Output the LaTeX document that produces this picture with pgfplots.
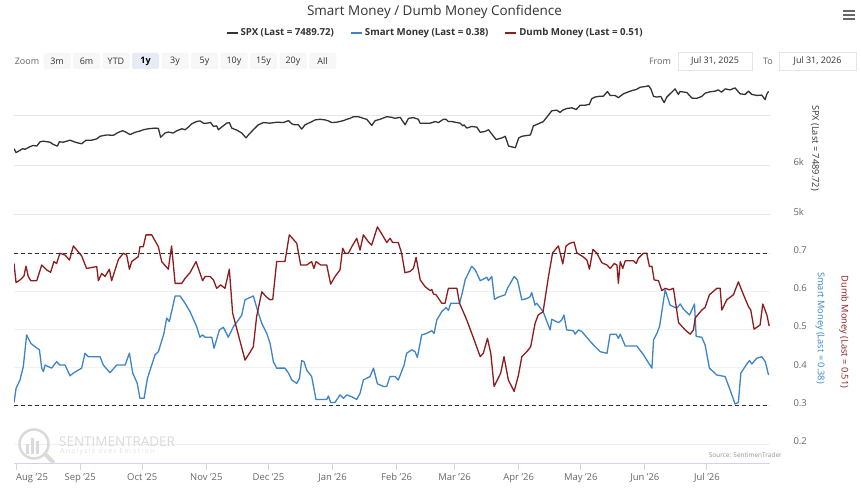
\documentclass[border=0pt]{standalone}
\usepackage{fontspec}
\setmainfont{Open Sans}
\usepackage{pgfplots}
\pgfplotsset{compat=1.18}
\usepackage{pgfplotstable}
\definecolor{spx}{HTML}{333333}
\definecolor{smart}{HTML}{3D85C6}
\definecolor{dumb}{HTML}{8E1C1C}
\definecolor{tickgray}{HTML}{666666}
\definecolor{gridc}{HTML}{E6E6E6}
\definecolor{gridl}{HTML}{F0F0F0}
\definecolor{axisc}{HTML}{CCD6EB}
\definecolor{btn}{HTML}{F7F7F7}
\definecolor{btnsel}{HTML}{E6EBF5}
\definecolor{wm}{HTML}{DADADA}

\pgfplotstableread{
d v
0 6336
1.0 6257
2.9 6303
4.2 6336
5.3 6322
7.7 6375
9.3 6401
11.0 6388
12.6 6474
14.2 6487
17.4 6467
19.0 6421
21.0 6388
21.9 6474
23.9 6467
27.1 6507
29.5 6467
32.7 6434
34.8 6507
37.6 6507
40.0 6533
41.6 6586
44.8 6612
48.0 6605
50.5 6665
52.5 6697
53.7 6678
56.1 6619
58.5 6665
60.9 6691
62.5 6717
65.0 6737
68.2 6750
69.8 6744
70.9 6566
73.0 6651
74.6 6671
77.0 6651
78.7 6697
81.1 6737
82.7 6717
84.3 6770
85.9 6836
88.3 6882
89.9 6895
91.6 6849
93.2 6849
95.1 6862
96.4 6783
98.0 6796
98.8 6717
100.4 6770
102.8 6849
104.1 6862
105.3 6750
108.0 6704
110.1 6651
112.2 6553
113.3 6612
115.7 6717
118.1 6816
120.6 6862
123.8 6849
127.0 6869
130.2 6862
132.7 6901
134.3 6836
135.9 6816
137.5 6816
139.1 6730
140.7 6816
143.1 6862
145.6 6915
148.0 6928
150.4 6915
152.0 6895
153.6 6862
156.0 6869
159.3 6901
160.9 6928
162.5 6947
164.1 6980
166.5 6980
168.9 6947
170.5 6928
173.0 6803
174.6 6901
177.0 6928
180.2 6980
182.6 6967
184.2 6947
186.7 6967
189.1 6816
190.7 6947
193.1 6961
195.5 6928
196.3 6849
201.2 6849
203.6 6882
205.2 6862
207.6 6928
208.9 6928
210.0 6882
211.6 6882
214.1 6862
215.7 6849
217.0 6796
217.6 6816
218.9 6750
221.3 6783
223.7 6770
225.4 6665
227.8 6684
229.4 6717
231.8 6586
233.1 6520
235.9 6553
237.5 6586
239.1 6388
242.4 6355
244.0 6553
245.6 6586
249.7 6612
251.1 6796
253.5 6836
255.9 6882
258.4 7013
260.0 7099
262.4 7112
264.0 7066
265.3 7112
267.2 7145
269.7 7158
271.8 7125
273.7 7211
276.1 7211
278.2 7230
279.3 7342
280.9 7375
282.5 7388
285.0 7395
286.9 7487
288.2 7408
290.6 7408
292.2 7362
294.6 7441
297.9 7494
301.1 7533
302.7 7573
305.9 7592
306.7 7606
307.9 7540
309.2 7388
310.8 7375
312.7 7388
314.3 7263
315.6 7375
318.0 7474
319.6 7540
321.2 7428
322.0 7487
325.3 7467
327.7 7355
330.1 7349
332.5 7388
334.1 7454
336.5 7481
338.9 7494
340.5 7520
342.1 7474
343.8 7540
346.2 7520
348.6 7560
351.0 7441
353.5 7428
355.1 7494
356.7 7428
359.1 7408
361.5 7415
363.1 7323
363.9 7428
364.8 7490
}\spxdata

\pgfplotstableread{
d v
0 0.309
1.0 0.346
2.9 0.368
4.5 0.403
6.1 0.486
8.1 0.464
10.2 0.455
12.3 0.447
13.4 0.399
14.2 0.390
15.0 0.407
18.2 0.399
20.6 0.416
22.2 0.407
24.7 0.407
27.1 0.379
28.7 0.386
32.7 0.399
34.3 0.438
35.9 0.429
41.6 0.429
43.2 0.407
46.4 0.387
49.6 0.407
53.7 0.407
55.8 0.438
57.4 0.386
59.6 0.359
60.9 0.320
62.9 0.320
64.5 0.372
65.8 0.394
68.2 0.434
69.8 0.442
72.5 0.490
73.8 0.530
75.1 0.521
77.9 0.588
80.3 0.588
82.7 0.569
85.1 0.547
88.3 0.508
89.9 0.480
91.2 0.486
92.4 0.480
95.6 0.480
96.7 0.451
99.3 0.499
101.2 0.506
103.6 0.480
106.1 0.508
108.5 0.525
110.1 0.538
111.7 0.578
115.7 0.588
117.7 0.551
119.8 0.516
122.2 0.490
123.8 0.464
125.4 0.416
127.0 0.399
131.0 0.399
132.7 0.386
134.3 0.368
136.7 0.359
138.0 0.372
139.1 0.419
140.2 0.416
141.5 0.394
143.9 0.377
146.0 0.317
151.2 0.317
152.0 0.326
153.1 0.309
155.2 0.309
157.6 0.329
159.3 0.320
160.9 0.329
163.3 0.324
165.7 0.317
167.3 0.333
168.9 0.368
172.1 0.377
173.8 0.399
175.7 0.358
178.6 0.351
180.2 0.351
181.8 0.377
184.2 0.377
185.8 0.368
188.6 0.407
189.8 0.438
192.3 0.447
193.9 0.442
195.0 0.427
197.1 0.486
199.5 0.490
202.0 0.497
203.1 0.490
204.4 0.525
206.8 0.547
208.9 0.558
210.0 0.550
211.2 0.569
215.4 0.569
216.5 0.591
218.1 0.630
221.3 0.666
223.0 0.656
225.4 0.628
226.9 0.632
228.6 0.637
229.4 0.628
231.0 0.639
232.3 0.579
234.2 0.585
237.4 0.591
238.6 0.608
241.8 0.639
243.4 0.630
245.5 0.578
247.9 0.581
249.5 0.586
250.3 0.597
251.9 0.564
252.7 0.569
255.8 0.547
259.2 0.499
260.0 0.527
263.2 0.518
264.8 0.525
265.9 0.538
267.2 0.499
270.4 0.497
271.3 0.488
272.9 0.499
274.5 0.495
279.4 0.464
283.4 0.442
286.7 0.438
288.2 0.488
291.1 0.488
292.2 0.477
293.1 0.488
295.5 0.457
301.1 0.457
304.3 0.434
308.4 0.399
309.2 0.473
310.8 0.490
312.1 0.508
314.8 0.604
317.2 0.564
320.4 0.556
322.1 0.567
323.7 0.553
326.6 0.538
329.0 0.567
329.8 0.482
332.5 0.480
334.1 0.460
336.2 0.399
339.8 0.381
343.8 0.377
346.2 0.342
348.6 0.305
350.2 0.309
351.4 0.386
354.3 0.410
355.6 0.419
356.7 0.410
359.1 0.425
361.5 0.429
363.2 0.416
364.8 0.381
}\smartdata

\pgfplotstableread{
d v
0 0.673
1.0 0.623
2.9 0.630
4.8 0.640
5.8 0.666
6.9 0.639
8.1 0.628
11.0 0.628
13.4 0.669
15.8 0.656
17.7 0.650
19.3 0.678
20.6 0.673
22.2 0.700
24.7 0.695
26.8 0.682
28.7 0.719
32.7 0.693
35.1 0.660
40.0 0.665
40.8 0.628
42.4 0.647
44.0 0.639
46.1 0.658
47.2 0.628
50.5 0.684
52.9 0.700
54.5 0.695
55.8 0.658
56.9 0.678
60.1 0.691
60.9 0.717
62.5 0.717
63.8 0.748
66.6 0.748
69.8 0.717
71.4 0.678
74.6 0.658
76.2 0.719
77.9 0.621
81.1 0.621
82.7 0.634
85.1 0.649
88.0 0.678
91.2 0.628
92.4 0.639
94.8 0.639
96.4 0.630
98.0 0.608
99.9 0.617
102.0 0.608
104.1 0.658
105.7 0.543
111.7 0.420
113.8 0.438
115.7 0.455
117.3 0.534
119.8 0.599
121.9 0.586
123.8 0.578
125.1 0.579
127.0 0.678
131.0 0.678
133.1 0.748
136.7 0.726
138.6 0.669
141.5 0.669
143.9 0.678
145.0 0.660
146.0 0.678
148.3 0.669
151.2 0.669
153.1 0.619
155.2 0.639
157.6 0.656
158.9 0.713
160.1 0.700
161.7 0.700
163.3 0.717
165.7 0.739
167.3 0.708
168.9 0.748
171.3 0.730
172.9 0.721
175.7 0.769
178.6 0.743
180.2 0.728
181.8 0.739
183.1 0.728
185.8 0.728
187.4 0.700
189.0 0.649
191.4 0.652
193.1 0.660
194.4 0.689
196.4 0.630
198.8 0.612
201.2 0.602
202.0 0.605
202.8 0.593
204.1 0.591
206.8 0.569
208.4 0.569
210.0 0.608
214.1 0.608
215.4 0.569
218.9 0.525
222.2 0.477
225.4 0.429
226.9 0.438
228.9 0.477
230.5 0.438
232.1 0.351
235.3 0.386
236.9 0.429
239.0 0.368
241.8 0.338
243.9 0.381
245.5 0.429
247.9 0.442
249.8 0.455
251.9 0.516
253.4 0.538
255.8 0.547
258.4 0.639
260.4 0.701
263.2 0.719
265.3 0.672
266.9 0.719
268.8 0.726
270.8 0.729
272.1 0.701
275.0 0.691
277.0 0.682
278.2 0.658
279.9 0.710
281.8 0.700
284.2 0.675
286.7 0.669
288.2 0.660
290.2 0.673
291.5 0.669
292.2 0.621
293.1 0.678
294.3 0.660
295.5 0.680
299.5 0.680
300.8 0.673
301.9 0.687
304.3 0.700
305.9 0.700
307.2 0.665
308.4 0.666
309.5 0.630
311.6 0.628
313.2 0.602
314.8 0.608
316.9 0.604
318.8 0.608
321.3 0.518
324.5 0.499
326.9 0.488
328.5 0.499
329.3 0.530
332.5 0.551
334.1 0.558
336.2 0.591
339.8 0.608
341.4 0.608
342.2 0.551
344.6 0.578
347.8 0.591
350.2 0.625
352.7 0.591
355.1 0.560
356.2 0.551
357.8 0.501
360.7 0.512
362.0 0.567
364.0 0.538
365.1 0.509
}\dumbdata

\pgfplotsset{
  common/.style={
    scale only axis, width=756bp,
    xmin=0, xmax=365.5,
    axis x line*=bottom, axis y line*=right,
    y axis line style={draw=none},
    tick align=outside, major tick length=6bp,
    ytick style={draw=none},
    ymajorgrids,
    yticklabel style={font=\fontsize{9.5}{11}\selectfont, text=tickgray, xshift=14bp, yshift=3bp},
  }
}

\begin{document}
\begin{tikzpicture}[x=1bp,y=1bp]
\useasboundingbox (0,0) rectangle (861,492);
\fill[white] (0,0) rectangle (861,492);

% ---- top pane: SPX
\begin{axis}[common,
  at={(14bp,277bp)}, anchor=south west, height=140bp,
  ymin=5000, ymax=7820,
  x axis line style={draw=none}, xtick=\empty,
  ytick={5000,6000,7000}, yticklabels={5k,6k,{}},
  grid style={gridc, line width=1bp},
  legend style={at={(0.557,1.3)}, anchor=center, draw=none, fill=none,
    font=\bfseries\fontsize{9.7}{11}\selectfont, text=spx,
    /tikz/every even column/.append style={column sep=14bp}},
  legend columns=3,
  legend image code/.code={\draw[#1, line width=2bp] (0bp,0bp) -- (11bp,0bp);},
]
\addplot[spx, line width=1.3bp, line join=round] table[x=d, y=v] {\spxdata};
\addlegendentry{SPX (Last = 7489.72)}
\addlegendimage{smart}
\addlegendentry{Smart Money (Last = 0.38)}
\addlegendimage{dumb}
\addlegendentry{Dumb Money (Last = 0.51)}
\end{axis}

% ---- lower pane: Smart / Dumb Money
\begin{axis}[common,
  at={(14bp,28bp)}, anchor=south west, height=242bp,
  ymin=0.148, ymax=0.7817,
  x axis line style={axisc, line width=1bp},
  xtick style={axisc, line width=1bp},
  xtick={1,32,62,93,123,154,185,213,244,274,305,335},
  xticklabels={\rlap{Aug '25},Sep '25,Oct '25,Nov '25,Dec '25,Jan '26,Feb '26,Mar '26,Apr '26,May '26,Jun '26,Jul '26},
  xticklabel style={font=\fontsize{9.5}{11}\selectfont, text=tickgray},
  ytick={0.2,0.3,0.4,0.5,0.6,0.7},
  yticklabel style={/pgf/number format/.cd, fixed, fixed zerofill, precision=1, assume math mode=true},
  grid style={gridl, line width=1bp},
]
\addplot[smart, line width=1.3bp, line join=round] table[x=d, y=v] {\smartdata};
\addplot[dumb, line width=1.3bp, line join=round] table[x=d, y=v] {\dumbdata};
\addplot[spx, line width=1bp, dash pattern=on 4bp off 3bp] coordinates {(0,0.7) (365.5,0.7)};
\addplot[spx, line width=1bp, dash pattern=on 4bp off 3bp] coordinates {(0,0.3) (365.5,0.3)};
\end{axis}

% ---- axis titles
\node[rotate=-90, font=\fontsize{9.3}{11}\selectfont, text=spx] at (815,344) {SPX (Last = 7489.72)};
\node[rotate=-90, font=\fontsize{9.3}{11}\selectfont, text=smart] at (820,164) {Smart Money (Last = 0.38)};
\node[rotate=-90, font=\fontsize{9.3}{11}\selectfont, text=dumb] at (844,160) {Dumb Money (Last = 0.51)};

% ---- title
\node[font=\fontsize{13.5}{16}\selectfont, text=spx] at (434.5,480) {Smart Money / Dumb Money Confidence};

% ---- menu icon
\foreach \yy in {473,477,481} \draw[tickgray, line width=2bp] (843,\yy) -- (855,\yy);

% ---- range selector
\node[font=\fontsize{9}{11}\selectfont, text=tickgray] at (27,431) {Zoom};
\foreach \lab [count=\i from 0] in {3m,6m,YTD,1y,3y,5y,10y,15y,20y,All} {
  \pgfmathsetmacro{\cx}{57+29.5*\i}
  \ifnum\i=3
    \fill[btnsel, rounded corners=2bp] (\cx-13.5,423) rectangle (\cx+13.5,439);
    \node[font=\bfseries\fontsize{9}{11}\selectfont, text=black] at (\cx,431) {\lab};
  \else
    \fill[btn, rounded corners=2bp] (\cx-13.5,423) rectangle (\cx+13.5,439);
    \node[font=\fontsize{9}{11}\selectfont, text=spx] at (\cx,431) {\lab};
  \fi
}
\node[font=\fontsize{9}{11}\selectfont, text=tickgray] at (660,431) {From};
\draw[gridc, fill=white] (678,422) rectangle (752,440);
\node[font=\fontsize{9}{11}\selectfont, text=spx] at (715,431) {Jul 31, 2025};
\node[font=\fontsize{9}{11}\selectfont, text=tickgray] at (768,431) {To};
\draw[gridc, fill=white] (779,422) rectangle (856,440);
\node[font=\fontsize{9}{11}\selectfont, text=spx] at (817.5,431) {Jul 31, 2026};

% ---- watermark
\draw[wm, line width=2.5bp] (34,48) circle (14.5);
\fill[wm] (26,38) rectangle (29,48);
\fill[wm] (31,38) rectangle (34,54);
\fill[wm] (36,38) rectangle (39,51);
\draw[wm, line width=4bp, line cap=round] (45,38) -- (53,30);
\node[font=\fontsize{13.5}{15}\selectfont, text=wm, anchor=west, inner sep=0pt] at (59,50) {SENTIMENTRADER};
\node[font=\addfontfeature{LetterSpace=18}\fontsize{7}{8}\selectfont, text=wm!80, anchor=west, inner sep=0pt] at (60,40) {Analysis over Emotion};
\node[font=\fontsize{6.5}{8}\selectfont, text=tickgray!70, anchor=east, inner sep=0pt] at (782,37) {Source: SentimenTrader};
\end{tikzpicture}
\end{document}
